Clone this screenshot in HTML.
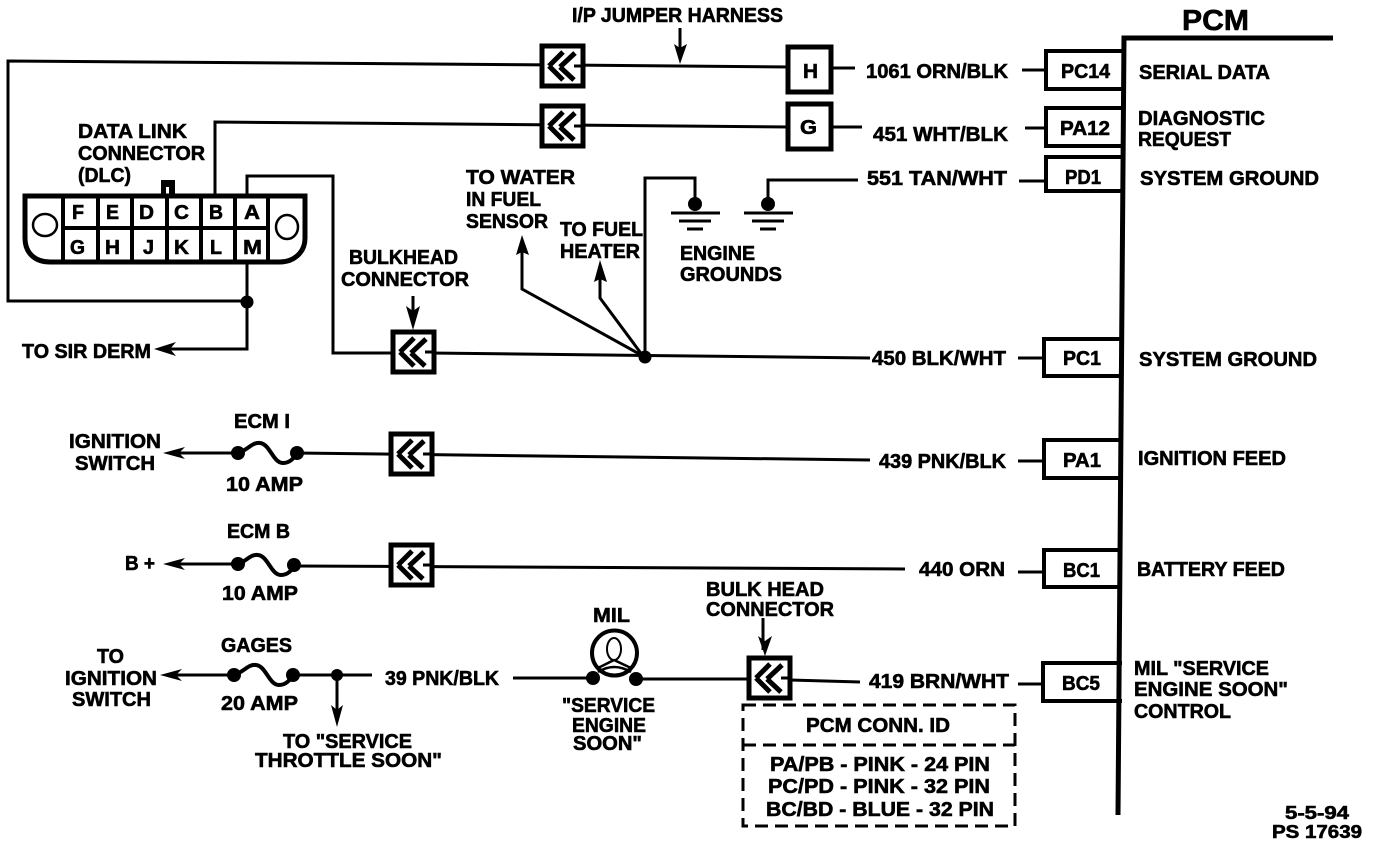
<!DOCTYPE html>
<html><head><meta charset="utf-8"><style>
html,body{margin:0;padding:0;background:#fff;width:1376px;height:846px;overflow:hidden}
svg{display:block}
text{font-family:"Liberation Sans",sans-serif;font-weight:bold;font-size:20px;fill:#000;stroke:#000;stroke-width:.6px}
.l{fill:none;stroke:#000;stroke-width:3}
.b{fill:#fff;stroke:#000;stroke-width:5}
</style></head><body>
<svg width="1376" height="846" viewBox="0 0 1376 846" xmlns="http://www.w3.org/2000/svg">
<defs>
<g id="c"><rect x="-20" y="-20" width="41" height="40" fill="#fff" stroke="#000" stroke-width="5"/><path d="M-13 0L1-14M-13 0L1 14M-2 1L13-13M-2 1L12 14" fill="none" stroke="#000" stroke-width="5"/><path d="M12 0H21" stroke="#000" stroke-width="3"/></g>
<path id="f" d="M0 0C10-3 14-11 22-10C32-9 35 10 45 10C52 10 56 5 59 0" fill="none" stroke="#000" stroke-width="4"/>
<g id="g"><circle cx="0" cy="0" r="7" fill="#000"/><path d="M-24 9H25M-16 17H16M-8 25H8" stroke="#000" stroke-width="3"/></g>
</defs>
<!-- main wires -->
<path class="l" d="M247 301H8V61L565 65L790 67M830 68H855"/>
<path class="l" d="M215 195V122L565 125L790 127M830 127H862"/>
<path class="l" d="M247 195V176H333V353H430L870 358"/>
<path class="l" d="M645 357V178H695V200M768 200V180H858"/>
<path class="l" d="M247 263V349H165"/>
<path class="l" d="M600 275V298L643 356L522 289V245"/>
<path class="l" d="M240 453H172M296 453L870 460"/>
<path class="l" d="M238 564H172M294 566L905 569"/>
<path class="l" d="M233 675H172M294 675H372M337 675V715"/>
<path class="l" d="M513 678H592M637 679H750M790 680L860 682"/>
<path class="l" d="M1022 70H1046M1025 128H1046M1019 181H1044M1018 358H1044M1018 461H1044M1018 572H1044M1018 684H1044"/>
<path class="l" d="M680 28V58M413 296V322M763 618V650"/>
<!-- arrowheads -->
<g fill="#000">
<path d="M680 64L674 44L680 48L687 44Z"/>
<path d="M413 330L406 306L413 311L420 306Z"/>
<path d="M765 656L758 636L765 641L772 636Z"/>
<path d="M154 349L176 342L170 349L176 356Z"/>
<path d="M163 453L185 447L179 453L185 459Z"/>
<path d="M163 564L185 558L179 564L185 570Z"/>
<path d="M160 675L182 669L176 675L182 681Z"/>
<path d="M337 727L331 705L337 710L343 705Z"/>
<path d="M522 235L516 255L522 252L529 255Z"/>
<path d="M600 260L594 282L600 279L607 282Z"/>
</g>
<!-- connectors -->
<use href="#c" x="562" y="66"/><use href="#c" x="562" y="126"/>
<use href="#c" x="413" y="352"/><use href="#c" x="411" y="454"/>
<use href="#c" x="411" y="565"/><use href="#c" x="769" y="678"/>
<!-- H G -->
<rect class="b" x="788" y="47" width="43" height="45"/><rect class="b" x="788" y="104" width="43" height="45"/>
<!-- PCM pins -->
<path d="M1122 51H1046V89H1122M1122 108H1046V146H1122M1122 157H1046V191H1122M1122 339H1044V376H1122M1122 440H1044V478H1122M1122 550H1044V587H1122M1122 663H1043V701H1122" fill="#fff" stroke="#000" stroke-width="4"/>
<!-- PCM bar -->
<path d="M1118 815L1124 38H1333" fill="none" stroke="#000" stroke-width="5"/>
<!-- DLC -->
<rect x="161" y="180" width="14" height="15" fill="#000"/><rect x="166" y="187" width="3" height="8" fill="#fff"/>
<path d="M25 196H305V238C305 254 292 262 280 262H50C36 262 25 254 25 238Z" fill="#fff" stroke="#000" stroke-width="5"/>
<path d="M63 196V262M98 196V262M132 196V262M167 196V262M201 196V262M235 196V262M268 196V262M63 228H268" stroke="#000" stroke-width="4"/>
<ellipse cx="45" cy="225" rx="12" ry="11" fill="#fff" stroke="#000" stroke-width="2.5"/>
<ellipse cx="287" cy="227" rx="11" ry="12" fill="#fff" stroke="#000" stroke-width="2.5"/>
<circle cx="247" cy="302" r="6.5"/><circle cx="645" cy="357" r="6.5"/>
<!-- grounds -->
<use href="#g" x="695" y="204"/><use href="#g" x="768" y="204"/>
<!-- fuses -->
<circle cx="238" cy="453" r="7"/><circle cx="297" cy="453" r="7"/><use href="#f" x="238" y="453"/>
<circle cx="238" cy="564" r="7"/><circle cx="294" cy="565" r="7"/><use href="#f" x="236" y="565"/>
<circle cx="234" cy="675" r="7"/><circle cx="293" cy="675" r="7"/><use href="#f" x="234" y="675"/>
<circle cx="337" cy="675" r="6"/>
<!-- MIL -->
<circle cx="614.5" cy="653" r="22.5" fill="#fff" stroke="#000" stroke-width="4"/>
<ellipse cx="614" cy="649" rx="7" ry="11" fill="none" stroke="#000" stroke-width="2"/>
<path d="M598 672Q614 662 631 672M614 660L598 668M614 660L631 668" fill="none" stroke="#000" stroke-width="2.5"/>
<circle cx="593" cy="678" r="7"/><circle cx="636" cy="679" r="7"/>
<!-- dashed box -->
<rect x="743" y="705" width="272" height="121" fill="none" stroke="#000" stroke-width="3" stroke-dasharray="13 7"/>
<path d="M743 745H1015" stroke="#000" stroke-width="3" stroke-dasharray="13 7"/>
<!-- labels -->
<g>
<text x="572" y="22" textLength="211" lengthAdjust="spacingAndGlyphs">I/P JUMPER HARNESS</text>
<text x="1182" y="30" textLength="67" lengthAdjust="spacingAndGlyphs" style="font-size:29px">PCM</text>
<text x="803" y="78" textLength="15" lengthAdjust="spacingAndGlyphs">H</text>
<text x="800" y="134" textLength="17" lengthAdjust="spacingAndGlyphs">G</text>
<text x="866" y="78" textLength="142" lengthAdjust="spacingAndGlyphs">1061 ORN/BLK</text>
<text x="873" y="141" textLength="135" lengthAdjust="spacingAndGlyphs">451 WHT/BLK</text>
<text x="867" y="185" textLength="140" lengthAdjust="spacingAndGlyphs">551 TAN/WHT</text>
<text x="872" y="365" textLength="134" lengthAdjust="spacingAndGlyphs">450 BLK/WHT</text>
<text x="879" y="468" textLength="127" lengthAdjust="spacingAndGlyphs">439 PNK/BLK</text>
<text x="919" y="576" textLength="86" lengthAdjust="spacingAndGlyphs">440 ORN</text>
<text x="869" y="688" textLength="140" lengthAdjust="spacingAndGlyphs">419 BRN/WHT</text>
<text x="385" y="685" textLength="114" lengthAdjust="spacingAndGlyphs">39 PNK/BLK</text>
<text x="1061" y="78" textLength="49" lengthAdjust="spacingAndGlyphs">PC14</text>
<text x="1060" y="135" textLength="50" lengthAdjust="spacingAndGlyphs">PA12</text>
<text x="1065" y="184" textLength="36" lengthAdjust="spacingAndGlyphs">PD1</text>
<text x="1063" y="365" textLength="38" lengthAdjust="spacingAndGlyphs">PC1</text>
<text x="1063" y="467" textLength="38" lengthAdjust="spacingAndGlyphs">PA1</text>
<text x="1063" y="577" textLength="37" lengthAdjust="spacingAndGlyphs">BC1</text>
<text x="1062" y="690" textLength="38" lengthAdjust="spacingAndGlyphs">BC5</text>
<text x="1139" y="79" textLength="131" lengthAdjust="spacingAndGlyphs">SERIAL DATA</text>
<text x="1138" y="125" textLength="127" lengthAdjust="spacingAndGlyphs">DIAGNOSTIC</text>
<text x="1138" y="146" textLength="93" lengthAdjust="spacingAndGlyphs">REQUEST</text>
<text x="1140" y="185" textLength="179" lengthAdjust="spacingAndGlyphs">SYSTEM GROUND</text>
<text x="1139" y="366" textLength="178" lengthAdjust="spacingAndGlyphs">SYSTEM GROUND</text>
<text x="1138" y="465" textLength="148" lengthAdjust="spacingAndGlyphs">IGNITION FEED</text>
<text x="1137" y="576" textLength="148" lengthAdjust="spacingAndGlyphs">BATTERY FEED</text>
<text x="1134" y="675" textLength="135" lengthAdjust="spacingAndGlyphs">MIL "SERVICE</text>
<text x="1134" y="696" textLength="154" lengthAdjust="spacingAndGlyphs">ENGINE SOON"</text>
<text x="1134" y="718" textLength="97" lengthAdjust="spacingAndGlyphs">CONTROL</text>
<text x="78" y="138" textLength="109" lengthAdjust="spacingAndGlyphs">DATA LINK</text>
<text x="78" y="160" textLength="127" lengthAdjust="spacingAndGlyphs">CONNECTOR</text>
<text x="78" y="182" textLength="53" lengthAdjust="spacingAndGlyphs">(DLC)</text>
<text x="72" y="219" textLength="12" lengthAdjust="spacingAndGlyphs">F</text>
<text x="106" y="219" textLength="13" lengthAdjust="spacingAndGlyphs">E</text>
<text x="139" y="219" textLength="15" lengthAdjust="spacingAndGlyphs">D</text>
<text x="174" y="219" textLength="15" lengthAdjust="spacingAndGlyphs">C</text>
<text x="209" y="219" textLength="14" lengthAdjust="spacingAndGlyphs">B</text>
<text x="244" y="219" textLength="16" lengthAdjust="spacingAndGlyphs">A</text>
<text x="70" y="254" textLength="15" lengthAdjust="spacingAndGlyphs">G</text>
<text x="105" y="254" textLength="15" lengthAdjust="spacingAndGlyphs">H</text>
<text x="143" y="254" textLength="11" lengthAdjust="spacingAndGlyphs">J</text>
<text x="174" y="254" textLength="15" lengthAdjust="spacingAndGlyphs">K</text>
<text x="210" y="254" textLength="12" lengthAdjust="spacingAndGlyphs">L</text>
<text x="243" y="254" textLength="19" lengthAdjust="spacingAndGlyphs">M</text>
<text x="466" y="184" textLength="109" lengthAdjust="spacingAndGlyphs">TO WATER</text>
<text x="466" y="206" textLength="75" lengthAdjust="spacingAndGlyphs">IN FUEL</text>
<text x="466" y="228" textLength="82" lengthAdjust="spacingAndGlyphs">SENSOR</text>
<text x="560" y="236" textLength="83" lengthAdjust="spacingAndGlyphs">TO FUEL</text>
<text x="560" y="258" textLength="80" lengthAdjust="spacingAndGlyphs">HEATER</text>
<text x="680" y="260" textLength="75" lengthAdjust="spacingAndGlyphs">ENGINE</text>
<text x="680" y="281" textLength="102" lengthAdjust="spacingAndGlyphs">GROUNDS</text>
<text x="349" y="264" textLength="109" lengthAdjust="spacingAndGlyphs">BULKHEAD</text>
<text x="341" y="286" textLength="128" lengthAdjust="spacingAndGlyphs">CONNECTOR</text>
<text x="22" y="358" textLength="129" lengthAdjust="spacingAndGlyphs">TO SIR DERM</text>
<text x="234" y="428" textLength="56" lengthAdjust="spacingAndGlyphs">ECM I</text>
<text x="69" y="448" textLength="92" lengthAdjust="spacingAndGlyphs">IGNITION</text>
<text x="75" y="470" textLength="80" lengthAdjust="spacingAndGlyphs">SWITCH</text>
<text x="226" y="491" textLength="77" lengthAdjust="spacingAndGlyphs">10 AMP</text>
<text x="227" y="538" textLength="63" lengthAdjust="spacingAndGlyphs">ECM B</text>
<text x="125" y="570" textLength="30" lengthAdjust="spacingAndGlyphs">B +</text>
<text x="222" y="600" textLength="76" lengthAdjust="spacingAndGlyphs">10 AMP</text>
<text x="706" y="596" textLength="118" lengthAdjust="spacingAndGlyphs">BULK HEAD</text>
<text x="706" y="616" textLength="128" lengthAdjust="spacingAndGlyphs">CONNECTOR</text>
<text x="593" y="622" textLength="37" lengthAdjust="spacingAndGlyphs">MIL</text>
<text x="221" y="652" textLength="71" lengthAdjust="spacingAndGlyphs">GAGES</text>
<text x="97" y="663" textLength="27" lengthAdjust="spacingAndGlyphs">TO</text>
<text x="65" y="685" textLength="92" lengthAdjust="spacingAndGlyphs">IGNITION</text>
<text x="72" y="706" textLength="79" lengthAdjust="spacingAndGlyphs">SWITCH</text>
<text x="221" y="710" textLength="77" lengthAdjust="spacingAndGlyphs">20 AMP</text>
<text x="562" y="712" textLength="93" lengthAdjust="spacingAndGlyphs">"SERVICE</text>
<text x="572" y="732" textLength="74" lengthAdjust="spacingAndGlyphs">ENGINE</text>
<text x="573" y="750" textLength="69" lengthAdjust="spacingAndGlyphs">SOON"</text>
<text x="283" y="748" textLength="129" lengthAdjust="spacingAndGlyphs">TO "SERVICE</text>
<text x="255" y="767" textLength="187" lengthAdjust="spacingAndGlyphs">THROTTLE SOON"</text>
<text x="806" y="732" textLength="144" lengthAdjust="spacingAndGlyphs">PCM CONN. ID</text>
<text x="770" y="771" textLength="220" lengthAdjust="spacingAndGlyphs">PA/PB - PINK - 24 PIN</text>
<text x="768" y="793" textLength="222" lengthAdjust="spacingAndGlyphs">PC/PD - PINK - 32 PIN</text>
<text x="766" y="816" textLength="228" lengthAdjust="spacingAndGlyphs">BC/BD - BLUE - 32 PIN</text>
<text x="1285" y="819" textLength="64" lengthAdjust="spacingAndGlyphs" style="font-size:18px">5-5-94</text>
<text x="1272" y="838" textLength="90" lengthAdjust="spacingAndGlyphs" style="font-size:18px">PS 17639</text>
</g>
</svg>
</body></html>
